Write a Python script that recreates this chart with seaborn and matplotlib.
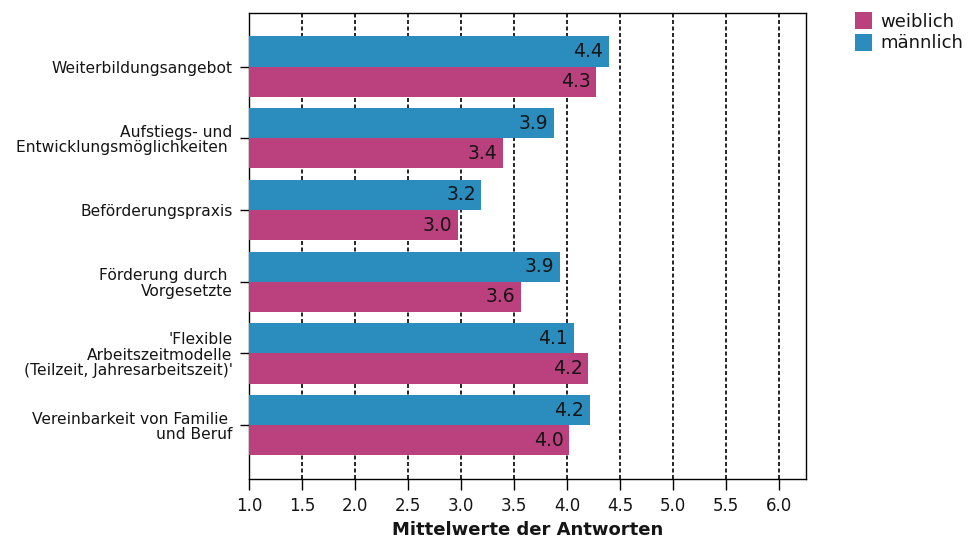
import matplotlib
matplotlib.use("Agg")
import matplotlib.pyplot as plt
from matplotlib.patches import Patch
import pandas as pd
import seaborn as sns

# Survey categories (top to bottom)
bereiche = [
    "Weiterbildungsangebot",
    "Aufstiegs- und\nEntwicklungsmöglichkeiten ",
    "Beförderungspraxis",
    "Förderung durch \nVorgesetzte",
    "'Flexible\nArbeitszeitmodelle\n(Teilzeit, Jahresarbeitszeit)'",
    "Vereinbarkeit von Familie \nund Beruf",
]

# Mean answers per group
maennlich = [4.39, 3.87, 3.19, 3.93, 4.06, 4.21]
weiblich = [4.27, 3.39, 2.97, 3.56, 4.20, 4.02]

x_ticks = [1.0, 1.5, 2.0, 2.5, 3.0, 3.5, 4.0, 4.5, 5.0, 5.5, 6.0]

farbe_m = "#2b8cbe"
farbe_w = "#bb407e"
text_farbe = "#151515"

df = pd.DataFrame({
    "Bereich": bereiche * 2,
    "Mittelwert": maennlich + weiblich,
    "Geschlecht": ["männlich"] * len(bereiche) + ["weiblich"] * len(bereiche),
})

sns.set_style("ticks")
plt.rcParams["font.family"] = ["DejaVu Sans"]

fig = plt.figure(figsize=(9.72, 5.41), dpi=100)
ax = fig.add_axes([0.2565, 0.1146, 0.829 - 0.2565, 0.9765 - 0.1146])

sns.barplot(
    data=df, x="Mittelwert", y="Bereich", hue="Geschlecht",
    hue_order=["männlich", "weiblich"], order=bereiche,
    palette={"männlich": farbe_m, "weiblich": farbe_w},
    orient="h", width=0.84, gap=0, errorbar=None, saturation=1,
    linewidth=0, edgecolor="none",
    legend=False, ax=ax, zorder=3,
)

ax.set_xlim(1.0, 6.25)
ax.set_ylim(len(bereiche) - 0.25, -0.75)
ax.set_xticks(x_ticks)
ax.set_xticklabels([f"{t:.1f}" for t in x_ticks], fontsize=12)

# dashed vertical grid lines
for t in x_ticks:
    ax.axvline(t, color="black", lw=1.2, linestyle=(0, (2.4, 1.5)), zorder=1)

# value labels inside bar ends
for cont in ax.containers:
    for p in cont:
        w = p.get_width()
        ax.annotate(f"{w:.1f}", xy=(w, p.get_y() + p.get_height() / 2),
                    xytext=(-4, 0), textcoords="offset points",
                    ha="right", va="center", fontsize=13.5, color=text_farbe,
                    zorder=4)

for lab in ax.get_yticklabels():
    lab.set_fontsize(11.2)
    lab.set_linespacing(1.05)
    lab.set_multialignment("right")
    lab.set_color(text_farbe)

ax.tick_params(axis="y", length=6.5, width=1.0, pad=5.5, color="black")
ax.tick_params(axis="x", length=8, width=1.0, pad=5, color="black",
               labelcolor=text_farbe)
for s in ax.spines.values():
    s.set_visible(True)
    s.set_color("black")
    s.set_linewidth(1.0)

ax.set_ylabel("")
ax.set_xlabel("Mittelwerte der Antworten", fontsize=13, fontweight="bold",
              labelpad=4, color=text_farbe)

handles = [Patch(facecolor=farbe_w, edgecolor="none"),
           Patch(facecolor=farbe_m, edgecolor="none")]
fig.legend(handles, ["weiblich", "männlich"], loc="upper left",
           bbox_to_anchor=(855 / 972, 1 - 12 / 541), frameon=False,
           fontsize=13, handlelength=0.95, handleheight=1.1,
           handletextpad=0.45, labelspacing=0.15, borderpad=0,
           borderaxespad=0, labelcolor=text_farbe)

fig.savefig("out.png", dpi=100)
